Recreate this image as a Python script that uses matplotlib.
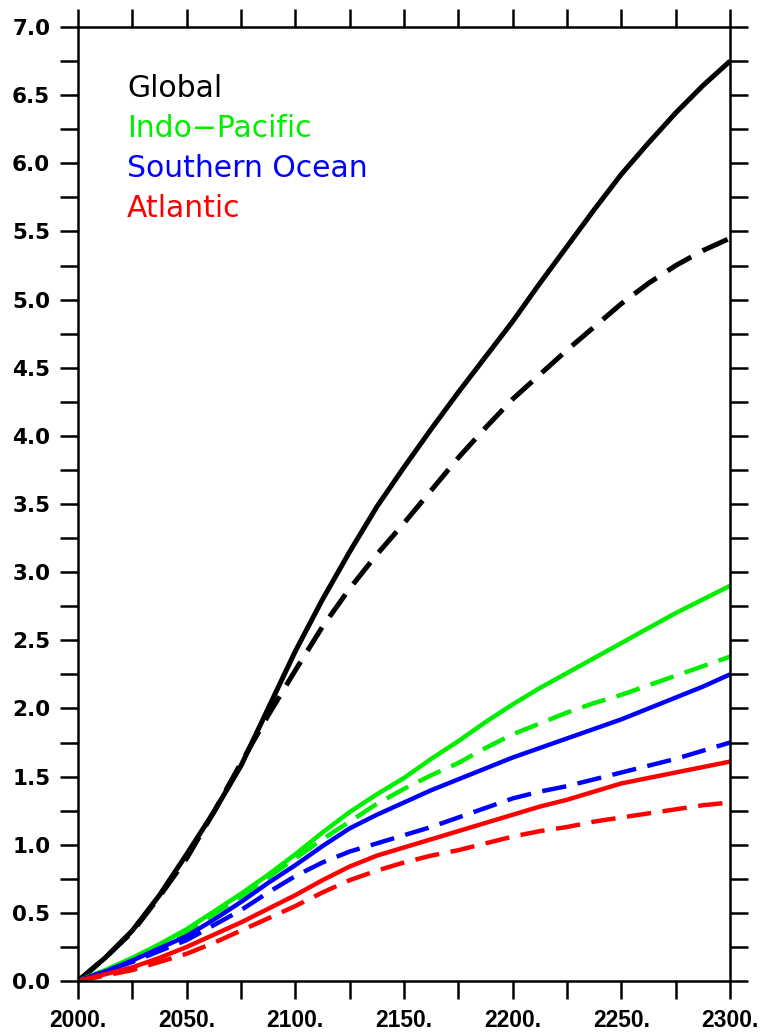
import matplotlib
matplotlib.use("Agg")
import matplotlib.pyplot as plt
from matplotlib.ticker import MultipleLocator, FixedLocator

years = [2000, 2012.5, 2025, 2037.5, 2050, 2062.5, 2075, 2087.5, 2100, 2112.5, 2125,
         2137.5, 2150, 2162.5, 2175, 2187.5, 2200, 2212.5, 2225, 2237.5, 2250,
         2262.5, 2275, 2287.5, 2300]

global_solid = [0.0, 0.17, 0.37, 0.63, 0.93, 1.24, 1.58, 2.0, 2.42, 2.8, 3.15, 3.48, 3.77,
                4.05, 4.32, 4.58, 4.84, 5.12, 5.39, 5.66, 5.92, 6.15, 6.37, 6.57, 6.75]
global_dash = [0.0, 0.17, 0.36, 0.62, 0.90, 1.24, 1.60, 1.95, 2.28, 2.60, 2.88, 3.13, 3.36,
               3.60, 3.84, 4.06, 4.27, 4.45, 4.63, 4.80, 4.97, 5.12, 5.25, 5.36, 5.45]
indo_solid = [0.0, 0.08, 0.17, 0.27, 0.38, 0.51, 0.64, 0.78, 0.93, 1.09, 1.24, 1.37, 1.49,
              1.63, 1.76, 1.90, 2.03, 2.15, 2.26, 2.37, 2.48, 2.59, 2.70, 2.80, 2.90]
indo_dash = [0.0, 0.08, 0.16, 0.26, 0.36, 0.49, 0.62, 0.76, 0.90, 1.04, 1.17, 1.30, 1.41,
             1.51, 1.60, 1.71, 1.81, 1.89, 1.97, 2.04, 2.10, 2.17, 2.24, 2.31, 2.38]
south_solid = [0.0, 0.07, 0.15, 0.24, 0.33, 0.45, 0.58, 0.72, 0.85, 0.99, 1.12, 1.22, 1.31,
               1.40, 1.48, 1.56, 1.64, 1.71, 1.78, 1.85, 1.92, 2.00, 2.08, 2.16, 2.25]
south_dash = [0.0, 0.07, 0.14, 0.22, 0.30, 0.41, 0.52, 0.65, 0.77, 0.87, 0.95, 1.01, 1.07,
              1.13, 1.20, 1.27, 1.34, 1.39, 1.43, 1.48, 1.53, 1.58, 1.63, 1.69, 1.75]
atl_solid = [0.0, 0.05, 0.10, 0.17, 0.25, 0.34, 0.43, 0.53, 0.63, 0.74, 0.84, 0.92, 0.98,
             1.04, 1.10, 1.16, 1.22, 1.28, 1.33, 1.39, 1.45, 1.49, 1.53, 1.57, 1.61]
atl_dash = [0.0, 0.04, 0.08, 0.14, 0.20, 0.28, 0.37, 0.46, 0.55, 0.65, 0.74, 0.81, 0.87,
            0.92, 0.96, 1.01, 1.06, 1.10, 1.13, 1.17, 1.20, 1.23, 1.26, 1.29, 1.31]

legend_labels = ["Global", "Indo\u2212Pacific", "Southern Ocean", "Atlantic"]
colors = ["#000000", "#00ee00", "#0000ff", "#ff0000"]

x_major = [2000, 2050, 2100, 2150, 2200, 2250, 2300]
x_tick_labels = ["2000.", "2050.", "2100.", "2150.", "2200.", "2250.", "2300."]
y_major = [0.0, 0.5, 1.0, 1.5, 2.0, 2.5, 3.0, 3.5, 4.0, 4.5, 5.0, 5.5, 6.0, 6.5, 7.0]
y_tick_labels = ["%.1f" % v for v in y_major]

fig = plt.figure(figsize=(7.63, 10.32), dpi=100)
ax = fig.add_axes([0.1022, 0.0494, 0.8546, 0.9244])

solids = [global_solid, indo_solid, south_solid, atl_solid]
dashes = [global_dash, indo_dash, south_dash, atl_dash]
lws = [3.6, 3.2, 3.2, 3.2]
for s, d, c, lw in zip(solids, dashes, colors, lws):
    ax.plot(years, s, color=c, lw=lw, solid_capstyle='butt', solid_joinstyle='round')
    ax.plot(years, d, color=c, lw=lw, dashes=(5.5, 2.6), dash_capstyle='butt')

ax.set_xlim(2000, 2300)
ax.set_ylim(0, 7)

ax.xaxis.set_major_locator(FixedLocator(x_major))
ax.xaxis.set_minor_locator(MultipleLocator(25))
ax.yaxis.set_major_locator(FixedLocator(y_major))
ax.yaxis.set_minor_locator(MultipleLocator(0.25))
ax.set_xticklabels(x_tick_labels, fontsize=16.5, fontweight='bold', family='Liberation Sans')
ax.set_yticklabels(y_tick_labels, fontsize=15.5, fontweight='bold', family='DejaVu Sans')

for which in ('major', 'minor'):
    ax.tick_params(axis='both', which=which, direction='out', length=13, width=1.8,
                   top=True, right=True, bottom=True, left=True, color='black')
ax.tick_params(axis='x', which='major', pad=7)
ax.tick_params(axis='y', which='major', pad=7)
for sp in ax.spines.values():
    sp.set_linewidth(1.8)

ys = [0.9266, 0.8847, 0.8428, 0.8008]
for lab, c, yy in zip(legend_labels, colors, ys):
    ax.text(0.075, yy, lab, color=c, fontsize=21.5, family='DejaVu Sans',
            transform=ax.transAxes, va='baseline', ha='left')

fig.savefig("out.png", dpi=100)
